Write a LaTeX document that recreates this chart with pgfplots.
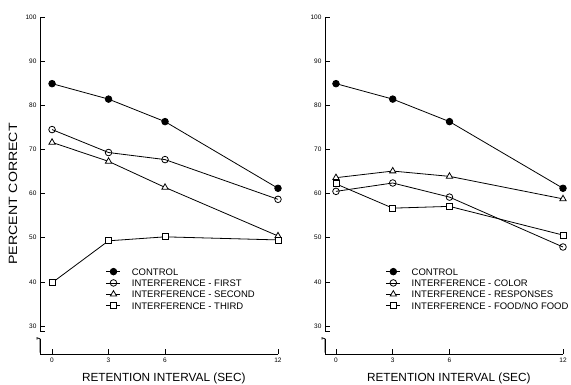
\documentclass[border=0pt]{standalone}
\usepackage{fontspec}
\setmainfont{Liberation Sans}
\newfontfamily\widefont[FakeStretch=1.18]{Liberation Sans}
\usepackage{pgfplots}
\usepackage{pgfplotstable}
\pgfplotsset{compat=1.18}

\pgfplotstableread{
x  ctrl  first  second third
0  84.9  74.5   71.6   39.8
3  81.4  69.3   67.3   49.3
6  76.3  67.7   61.4   50.2
12 61.2  58.7   50.4   49.5
}\lefttab
\pgfplotstableread{
x  ctrl  color  resp   food
0  84.9  60.5   63.6   62.2
3  81.4  62.4   65.1   56.7
6  76.3  59.2   63.9   57.1
12 61.2  47.9   58.8   50.6
}\righttab

\pgfplotsset{
  panel/.style={
    scale only axis, width=238pt, height=337pt, clip=false,
    ymin=23.66, ymax=100, xmax=12,
    axis x line=bottom, axis y line=left,
    axis line style={-, line width=0.8pt},
    xtick={0,3,6,12}, ytick={30,40,...,100},
    tick align=inside, major tick length=5pt,
    tick style={black, line width=0.7pt},
    ticklabel style={font=\fontsize{6.5}{7}\selectfont},
    /pgf/number format/assume math mode=true,
    xlabel={RETENTION INTERVAL (SEC)},
    xlabel style={font=\fontsize{11.8}{13}\selectfont, at={(axis description cs:0.52,0)}, anchor=base, yshift=-27.5pt},
    every axis plot/.append style={black, line width=0.8pt},
    legend cell align=left,
    legend style={draw=none, fill=none, inner sep=0pt, outer sep=0pt, row sep=0pt,
      font=\fontsize{9.5}{11}\selectfont,
      nodes={text height=7.3pt, text depth=0pt, inner sep=2pt}},
    legend image code/.code={
      \draw[mark repeat=2,mark phase=2] plot coordinates {(0pt,0pt)(7pt,0pt)(14pt,0pt)};
      \path (23pt,0pt);},
  },
  mfc/.style={mark=*, mark size=3.3pt, mark options={fill=black}},
  moc/.style={mark=o, mark size=3.3pt, mark options={fill=white}},
  mtr/.style={mark=triangle*, mark size=3.6pt, mark options={fill=white}},
  msq/.style={mark=square*, mark size=3pt, mark options={fill=white}},
}

\begin{document}
\begin{tikzpicture}[x=1pt,y=1pt]
\useasboundingbox (0,0) rectangle (571,384);
% left panel
\begin{axis}[panel, at={(40pt,30pt)}, anchor=south west, xmin=-0.64,
  ylabel={\widefont PERCENT CORRECT},
  ylabel style={font=\fontsize{12}{14}\selectfont, at={(axis description cs:-0.113,0.475)}, anchor=center},
  legend style={at={(axis cs:2.87,43.6)}, anchor=north west}]
\addplot[mfc] table[x=x,y=ctrl]{\lefttab};
\addlegendentry{CONTROL}
\addplot[moc] table[x=x,y=first]{\lefttab};
\addlegendentry{INTERFERENCE - FIRST}
\addplot[mtr] table[x=x,y=second]{\lefttab};
\addlegendentry{INTERFERENCE - SECOND}
\addplot[msq] table[x=x,y=third]{\lefttab};
\addlegendentry{INTERFERENCE - THIRD}
\fill[white] (axis cs:-0.85,27.15) rectangle (axis cs:-0.5,28.75);
\draw[line width=0.8pt] (axis cs:-0.64,29.3) -- (axis cs:-0.64,28.85) -- (axis cs:-0.43,28.85) -- (axis cs:-0.43,28.55);
\draw[line width=0.8pt] (axis cs:-0.64,24) -- (axis cs:-0.64,27.1) -- (axis cs:-0.8,27.35) -- (axis cs:-0.8,26.9);
\end{axis}
% right panel
\begin{axis}[panel, at={(325pt,30pt)}, anchor=south west, xmin=-0.58,
  legend style={at={(axis cs:2.64,43.6)}, anchor=north west}]
\addplot[mfc] table[x=x,y=ctrl]{\righttab};
\addlegendentry{CONTROL}
\addplot[moc] table[x=x,y=color]{\righttab};
\addlegendentry{INTERFERENCE - COLOR}
\addplot[mtr] table[x=x,y=resp]{\righttab};
\addlegendentry{INTERFERENCE - RESPONSES}
\addplot[msq] table[x=x,y=food]{\righttab};
\addlegendentry{INTERFERENCE - FOOD/NO FOOD}
\fill[white] (axis cs:-0.79,27.15) rectangle (axis cs:-0.44,28.75);
\draw[line width=0.8pt] (axis cs:-0.58,29.3) -- (axis cs:-0.58,28.85) -- (axis cs:-0.37,28.85) -- (axis cs:-0.37,28.55);
\draw[line width=0.8pt] (axis cs:-0.58,24) -- (axis cs:-0.58,27.1) -- (axis cs:-0.74,27.35) -- (axis cs:-0.74,26.9);
\end{axis}
\end{tikzpicture}
\end{document}
